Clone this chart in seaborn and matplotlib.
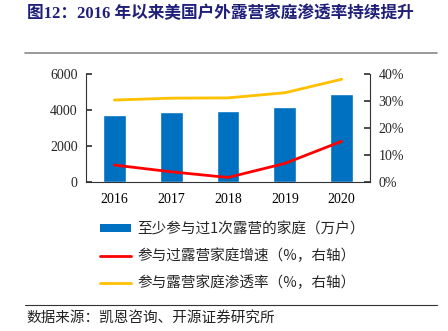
import matplotlib
matplotlib.use("Agg")
import matplotlib.pyplot as plt
import seaborn as sns
import pandas as pd
from matplotlib.patches import Patch
from matplotlib.lines import Line2D
from matplotlib.ticker import FuncFormatter

years = ["2016", "2017", "2018", "2019", "2020"]
families = [3720, 3870, 3925, 4200, 4870]
growth = [6.3, 3.8, 1.7, 6.9, 15.1]
penetration = [30.4, 31.1, 31.2, 33.1, 38.1]

title = "图12：2016 年以来美国户外露营家庭渗透率持续提升"
labels = ["至少参与过1次露营的家庭（万户）", "参与过露营家庭增速（%，右轴）", "参与露营家庭渗透率（%，右轴）"]
source = "数据来源：凯恩咨询、开源证券研究所"

BLUE = "#0070C0"
RED = "#FF0000"
YELLOW = "#FFC000"
NAVY = "#1F1F7A"

sns.set_theme(style="white")
plt.rcParams["font.family"] = ["Liberation Serif", "Noto Sans CJK SC", "DejaVu Sans"]
cjk = ["Noto Sans CJK SC", "DejaVu Sans"]

df = pd.DataFrame({"year": years, "families": families, "growth": growth, "pen": penetration})

fig = plt.figure(figsize=(4.48, 3.31), dpi=100)
ax = fig.add_axes([0.192, 0.450, 0.634, 0.326])
sns.barplot(data=df, x="year", y="families", color=BLUE, width=0.4, ax=ax, saturation=1)
ax2 = ax.twinx()
sns.pointplot(data=df, x="year", y="growth", color=RED, markers="", linestyles="-", ax=ax2, linewidth=2)
sns.pointplot(data=df, x="year", y="pen", color=YELLOW, markers="", linestyles="-", ax=ax2, linewidth=2)

ax.set_xlim(-0.5, 4.5)
ax2.set_xlim(-0.5, 4.5)
ax.set_ylim(0, 6000)
ax.set_yticks([0, 2000, 4000, 6000])
ax2.set_ylim(0, 40)
ax2.set_yticks([0, 10, 20, 30, 40])
ax2.yaxis.set_major_formatter(FuncFormatter(lambda v, p: f"{int(v)}%"))
ax.set_xlabel("")
ax.set_ylabel("")
ax2.set_xlabel("")
ax2.set_ylabel("")

for a in (ax, ax2):
    a.grid(False)
    a.spines["top"].set_visible(False)
    for s in a.spines.values():
        s.set_color("#333333")
        s.set_linewidth(0.8)
ax.spines["right"].set_visible(False)
ax2.spines["left"].set_visible(False)
ax2.spines["bottom"].set_visible(False)

ax.set_xticks([0.5, 1.5, 2.5, 3.5], minor=True)
ax.tick_params(axis="x", which="major", length=0, labelsize=10, pad=8, colors="black")
ax.tick_params(axis="x", which="minor", length=4, direction="in", color="#333333")
ax.tick_params(axis="y", length=4, direction="in", labelsize=10, pad=6, left=True, color="#333333")
ax2.tick_params(axis="y", length=4, direction="in", labelsize=10, pad=6, right=True, color="#333333")

handles = [Patch(facecolor=BLUE, edgecolor="none"),
           Line2D([], [], color=RED, lw=2),
           Line2D([], [], color=YELLOW, lw=2)]
fig.legend(handles, labels, loc="upper left", bbox_to_anchor=(100/448, 1-222/331), frameon=False,
           prop={"family": cjk, "size": 10.5}, handlelength=2.1, handleheight=0.4,
           labelspacing=0.85, handletextpad=0.45, borderaxespad=0, borderpad=0)

fig.text(0.06, 0.958, title, fontsize=12, fontweight="bold", color=NAVY, family=["Liberation Serif", "Noto Sans CJK SC"], va="center")
fig.add_artist(Line2D([25/448, 437/448], [1-53/331, 1-53/331], color="#888888", lw=1.2))
fig.add_artist(Line2D([25/448, 437/448], [1-305/331, 1-305/331], color="#333333", lw=0.8))
fig.text(0.06, 1-318/331, source, fontsize=10.5, family=cjk, color="#222222", va="center")

fig.savefig("out.png", dpi=100)
